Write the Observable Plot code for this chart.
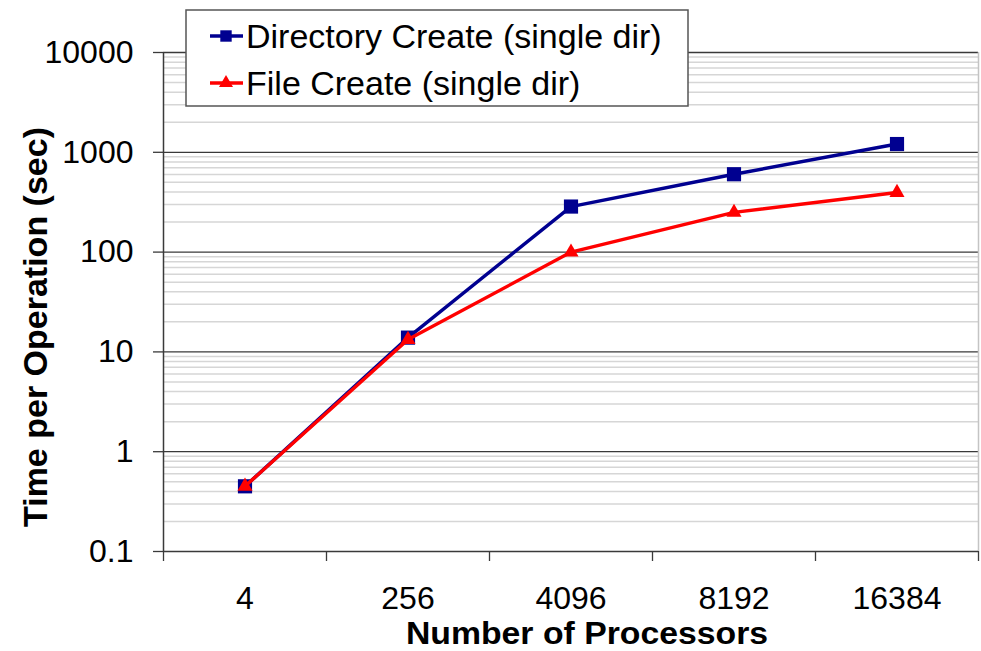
<!DOCTYPE html>
<html>
<head>
<meta charset="utf-8">
<script src="https://cdn.jsdelivr.net/npm/d3@7"></script>
<script src="https://cdn.jsdelivr.net/npm/@observablehq/plot@0.6"></script>
<style>
  html, body { margin: 0; padding: 0; background: #fff; }
  #chart { position: relative; width: 981px; height: 651px; overflow: hidden; }
</style>
</head>
<body>
<div id="chart"></div>
<script>
// ---- data ----
const categories = ["4", "256", "4096", "8192", "16384"];
const dirCreate = [0.45, 13.9, 286, 603, 1210];
const fileCreate = [0.45, 13.3, 100, 250, 395];
const seriesNames = ["Directory Create (single dir)", "File Create (single dir)"];
const seriesColors = ["#000090", "#ff0000"];
const seriesSymbols = ["square", "triangle"];
const yTicks = [0.1, 1, 10, 100, 1000, 10000];
const yTickLabels = ["0.1", "1", "10", "100", "1000", "10000"];
const xTitle = "Number of Processors";
const yTitle = "Time per Operation (sec)";

// ---- derived tables ----
const idx = categories.map((_, i) => i);
const boundaries = [-0.5, ...idx.map(i => i + 0.5)];
const rows = [dirCreate, fileCreate].flatMap((vals, s) =>
  vals.map((v, i) => ({ series: seriesNames[s], s, i, v })));
const minorTicks = d3.scaleLog().domain([yTicks[0], yTicks[yTicks.length - 1]]).ticks()
  .filter(t => !yTicks.some(m => Math.abs(m - t) / m < 1e-9));

const font = "'Liberation Sans', Arial, Helvetica, sans-serif";
const axisColor = "#3a3a3a";

const seriesMarks = [0, 1].flatMap(s => [
  Plot.line(rows.filter(d => d.s === s), {
    x: "i", y: "v", stroke: seriesColors[s], strokeWidth: 3.4
  }),
  Plot.dot(rows.filter(d => d.s === s), {
    x: "i", y: "v", symbol: () => seriesSymbols[s], fill: seriesColors[s],
    stroke: "none", r: s === 0 ? 8 : 5.6
  })
]);

const chart = Plot.plot({
  width: 981,
  height: 651,
  marginLeft: 163,
  marginRight: 3,
  marginTop: 52,
  marginBottom: 100,
  style: { fontFamily: font, fontSize: "32px", color: "#000", background: "#fff", overflow: "visible" },
  x: { domain: [-0.5, categories.length - 0.5] },
  y: { type: "log", domain: [yTicks[0], yTicks[yTicks.length - 1]] },
  symbol: { type: "identity" },
  marks: [
    Plot.ruleY(minorTicks, { stroke: "#d6d6d6", strokeWidth: 1.5 }),
    Plot.ruleY(yTicks.slice(1), { stroke: axisColor, strokeWidth: 1.3 }),
    Plot.ruleX([categories.length - 0.5], { stroke: "#c4c4c4", strokeWidth: 1.5 }),
    Plot.axisY({
      ticks: yTicks,
      tickFormat: d => yTickLabels[yTicks.indexOf(d)],
      tickSize: 10, tickPadding: 20, stroke: axisColor, strokeWidth: 1.3,
      label: null, fontSize: 32
    }),
    Plot.axisX({
      ticks: idx, tickFormat: d => categories[d],
      tickSize: 0, tickPadding: 35, label: null, fontSize: 32
    }),
    Plot.axisX({
      ticks: boundaries, tickFormat: () => "",
      tickSize: 10, stroke: axisColor, strokeWidth: 1.3, label: null
    }),
    Plot.ruleX([-0.5], { stroke: axisColor, strokeWidth: 1.5 }),
    Plot.ruleY([yTicks[0]], { stroke: axisColor, strokeWidth: 1.5 }),
    ...seriesMarks
  ]
});

document.getElementById("chart").appendChild(chart);

// ---- titles and legend ----
const svg = d3.select(chart);

svg.append("text")
  .attr("transform", "translate(47,327) rotate(-90)")
  .attr("text-anchor", "middle")
  .attr("font-family", font).attr("font-weight", "bold").attr("font-size", 34)
  .attr("fill", "#000")
  .text(yTitle);

svg.append("text")
  .attr("transform", "translate(587,644) scale(1.09,1)")
  .attr("text-anchor", "middle")
  .attr("font-family", font).attr("font-weight", "bold").attr("font-size", 31)
  .attr("fill", "#000")
  .text(xTitle);

const lg = svg.append("g");
lg.append("rect")
  .attr("x", 186).attr("y", 10).attr("width", 502).attr("height", 96)
  .attr("fill", "#fff").attr("stroke", "#555").attr("stroke-width", 1.5);

seriesNames.forEach((name, s) => {
  const cy = 36 + s * 47;
  const row = lg.append("g").attr("transform", `translate(0,${cy})`);
  row.append("line")
    .attr("x1", 210).attr("x2", 243).attr("y1", 0).attr("y2", 0)
    .attr("stroke", seriesColors[s]).attr("stroke-width", 3.4);
  const sym = seriesSymbols[s] === "square" ? d3.symbolSquare : d3.symbolTriangle;
  row.append("path")
    .attr("transform", "translate(226,0)")
    .attr("d", d3.symbol(sym, s === 0 ? 130 : 85)())
    .attr("fill", seriesColors[s]);
  row.append("text")
    .attr("x", 246).attr("y", 0).attr("dy", "0.35em")
    .attr("text-anchor", "start")
    .attr("font-family", font).attr("font-size", 34).attr("fill", "#000")
    .text(name);
});
</script>
</body>
</html>
